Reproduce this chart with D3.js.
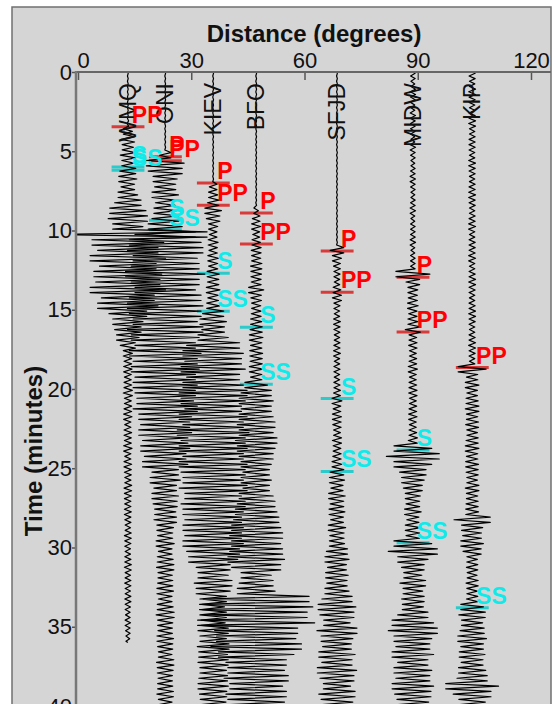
<!DOCTYPE html>
<html>
<head>
<meta charset="utf-8">
<script src="https://cdn.jsdelivr.net/npm/d3@7"></script>
<style>
  body { margin: 0; background: #fff; }
  text { font-family: "Liberation Sans", Arial, sans-serif; }
</style>
</head>
<body>
<script>
// station names and epicentral distances (degrees)
var stations = ["WMQ", "ONI", "KIEV", "BFO", "SFJD", "MIDW", "KIP"];
var distances = [13.2, 23.1, 35.8, 47.2, 68.6, 88.7, 104.4];

// peak trace deflection (degrees of offset) per half minute
var ampWMQ = [0.1,0.1,0.1,0.1,0.1,0.1,0.2, 1.2,1.8,1.5,2.0,1.6, 2.1,2.4,1.8,2.6, 3.5,4.8,5.2,4.0, 21,
  9.5,8.0,10.0,7.5,9.0,8.5,10.0,7.0,8.0, 5.0,4.0,3.5,3.0,2.0,
  1.2,1.0,1.1,0.9,1.0,1.2,0.9,1.0,1.1,0.8, 1.0,0.9,1.1,0.8,1.0,0.9,0.8,1.0,0.9,0.8,
  0.9,0.8,0.7,0.9,0.8,0.7,0.8,0.9,0.7,0.8, 0.7,0.8,0.7,0.6,0.7,0.6,0.5];
var ampONI = [0.1,0.1,0.1,0.1,0.1,0.1,0.1,0.1,0.1,0.1, 1.5, 5.0,4.5, 3.2,2.8,3.5,2.6,3.0, 3.5,4.5,
  8.0,9.5,10.0,8.5,9.0,10.5,9.0,8.0,9.5,10.0, 9.5,8.5,10.0,9.0,8.0,9.5,8.5,9.0,8.0,8.5,
  8.0,7.5,8.5,7.0, 6.5,7.0,6.0,6.5,5.5,6.0, 3.5,4.0,3.0,3.5,3.2,2.8,3.0,
  2.2,2.0,2.4,1.8,2.1,2.3,1.9,2.0,2.2,1.8,2.1,2.4,2.0,1.9,2.2,2.0,1.8,2.3,2.1,1.9,2.0,2.2,1.8];
var ampKIEV = [0.1,0.1,0.1,0.1,0.1,0.1,0.1,0.1,0.1,0.1,0.1,0.1,0.1,0.1, 1.0,1.2,1.5, 2.2,1.8,
  1.2,1.0,1.3,1.1,1.4,1.2, 1.6,1.5,1.8,1.4,1.7, 2.8,3.5,3.0,4.0,
  7.0,8.0,7.5,8.5,7.0,8.0,9.0,8.5,7.5,9.0,8.0,9.5,8.5,9.0,8.0,9.0,8.5,8.0,9.0,7.5,8.5,8.0,7.5,
  8.0,7.5,8.0,7.0,6.5, 4.5,4.0,5.0,4.5, 3.5,3.0,3.5,3.2, 4.0,3.5,4.2,3.8,4.0,3.5,3.8,4.0,3.6,3.4];
var ampBFO = [0.1,0.1,0.1,0.1,0.1,0.1,0.1,0.1,0.1,0.1,0.1,0.1,0.1,0.1,0.1,0.1,0.1, 0.6,
  1.0,1.2,0.9,1.1, 1.3,1.2,1.5,1.4,1.3,2.0,1.4,1.2,1.3,1.5, 1.6,1.8,1.5,1.7,1.6,1.8,1.5,
  3.0,4.0,4.5,4.0,4.5,5.0,4.5,5.5,5.0,4.5,4.0, 3.5,4.0,3.5,4.5,5.0,5.5,6.0,
  6.5,7.0,6.5, 7.0,7.5,6.5, 4.0,4.5,5.0, 14.0,15.0,13.5,15.5, 11.0,10.5,12.0,10.0,
  8.0,7.5,8.5,7.0,8.0,7.5];
var ampSFJD = [0.1,0.1,0.1,0.1,0.1,0.1,0.1,0.1,0.1,0.1,0.1,0.1,0.1,0.1,0.1,0.1,0.1,0.1,0.1,0.1,0.1,0.1,
  1.8,1.2,0.9,0.8,0.7,1.0, 1.2,0.8,0.7,0.9,0.8,0.7,0.8,0.9,0.7,0.8,0.7,0.8,0.9,
  1.3,1.0,1.2,1.1,0.9,1.2,1.0,1.1,1.3, 1.8,2.0,1.6,2.2,1.8,2.1,1.7,2.3,1.9,2.0,
  2.8,3.2,2.5,3.0,2.7,3.2, 4.0,5.0,4.5,3.5,5.3,4.2,3.8,4.8,4.0,5.2,4.5,3.6,4.8,4.2];
var ampMIDW = [0.6,0.5,0.7,0.6,0.5,0.7,0.6,0.6,0.5,0.7,0.6,0.5,0.6,0.7,0.6,0.5,0.6,0.7,0.5,0.6,0.6,0.7,0.5,0.6,0.6,
  4.5, 1.8, 1.3,1.2,1.4,1.1,1.3, 2.0,
  1.0,1.1,0.9,1.0,1.2,0.9,1.0,1.1,0.9,1.0,1.1,0.9,1.0,1.2, 5.0,7.0,5.0, 3.5,3.0,2.5,
  2.0,1.8,2.2,1.6,2.0,1.8, 5.0,6.5,4.0, 3.0,2.4,3.4,2.6,3.0,2.8,
  4.0,5.5,6.5,5.0,4.5,5.5,4.0,5.0,4.5,5.5,4.8,4.2];
var ampKIP = [0.8,0.7,0.9,0.8,0.7,0.8,0.9,0.7,0.8,0.8,0.7,0.9,0.8,0.7,0.8,0.9,0.8,0.7,0.8,0.9,
  0.7,0.8,0.8,0.9,0.7,0.8,0.9,0.8,0.7,0.8,0.9,0.8,0.7,0.8,0.9,0.8,0.7, 3.7,
  1.5,1.8,1.4,1.6,1.8,1.5,1.7,1.4,1.6,1.8,1.5,1.7,1.6,1.4,1.8,1.5,1.6,1.7, 4.8,
  2.8,2.5,3.0,2.4, 1.4,1.5,1.3,1.6,1.4,1.5, 3.0,3.5,2.8,3.2,3.8,3.0,3.4,2.9,3.6,4.0,7.0,5.0,3.5];
var amplitudes = [ampWMQ, ampONI, ampKIEV, ampBFO, ampSFJD, ampMIDW, ampKIP];

// picked arrivals: station index, phase, time (minutes)
var phaseStation = [0, 0, 0, 1, 1, 1, 1, 2, 2, 2, 2, 3, 3, 3, 3, 4, 4, 4, 4, 5, 5, 5, 5, 6, 6];
var phaseName = ["PP","S","SS", "P","PP","S","SS", "P","PP","S","SS", "P","PP","S","SS",
  "P","PP","S","SS", "P","PP","S","SS", "PP","SS"];
var phaseTime = [3.45, 6.0, 6.2, 5.35, 5.6, 9.35, 9.95, 7.0, 8.4, 12.7, 15.1, 8.9, 10.85, 16.1, 19.7,
  11.3, 13.9, 20.6, 25.2, 12.95, 16.4, 23.85, 29.7, 18.65, 33.8];

var distTicks = [0, 30, 60, 90, 120];
var timeTicks = [0, 5, 10, 15, 20, 25, 30, 35, 40];

var width = 558, height = 704;

var svg = d3.select('body').append('svg')
    .attr('width', width)
    .attr('height', height);

svg.append('rect').attr('width', width).attr('height', height).attr('fill', '#fff');
// grey panel
svg.append('rect')
    .attr('x', 12).attr('y', 7)
    .attr('width', 539).attr('height', 720)
    .attr('fill', '#d5d5d5')
    .attr('stroke', '#707070')
    .attr('stroke-width', 1.5);

var x = d3.scaleLinear().domain([0, 120]).range([78, 531]);
var y = d3.scaleLinear().domain([0, 40]).range([72, 706]);

svg.append('clipPath').attr('id', 'plotclip')
  .append('rect').attr('x', 77).attr('y', 72).attr('width', 474).attr('height', 640);

var plot = svg.append('g').attr('clip-path', 'url(#plotclip)');

// arrival marker lines (behind the traces)
var phases = phaseName.map(function (p, i) {
  return { st: phaseStation[i], name: p, t: phaseTime[i] };
});
function phaseColor(d, line) {
  if (d.name.indexOf('P') === 0) return line ? '#d93a3a' : '#ff0000';
  return line ? '#2ccaca' : '#10eaea';
}
plot.selectAll('line.mark')
    .data(phases)
    .enter()
    .append('line')
    .attr('class', 'mark')
    .attr('x1', function (d) { return x(distances[d.st] - 4.3); })
    .attr('x2', function (d) { return x(distances[d.st] + 4.4); })
    .attr('y1', function (d) { return y(d.t); })
    .attr('y2', function (d) { return y(d.t); })
    .attr('stroke', function (d) { return phaseColor(d, true); })
    .attr('stroke-width', 3);

// traces: each half minute drawn as three swings between +peak and -peak
var line = d3.line()
    .x(function (d) { return x(d[1]); })
    .y(function (d) { return y(d[0]); });

var traces = stations.map(function (s, k) {
  var dist = distances[k];
  var amps = amplitudes[k];
  var pts = [[0, dist]];
  amps.forEach(function (a, i) {
    for (var j = 0; j < 3; j++) {
      var sign = (3 * i + j) % 2 ? -1 : 1;
      pts.push([i * 0.5 + (j + 0.5) / 6, dist + sign * a]);
    }
  });
  pts.push([amps.length * 0.5, dist]);
  return pts;
});

plot.selectAll('path.trace')
    .data(traces)
    .enter()
    .append('path')
    .attr('class', 'trace')
    .attr('d', line)
    .attr('fill', 'none')
    .attr('stroke', '#000')
    .attr('stroke-width', 1.2)
    .attr('stroke-linejoin', 'round');

// station names, rotated, on the traces
svg.selectAll('text.station')
    .data(stations)
    .enter()
    .append('text')
    .attr('class', 'station')
    .attr('transform', function (d, i) { return 'translate(' + x(distances[i]) + ',83) rotate(-90)'; })
    .attr('text-anchor', 'end')
    .attr('dy', '0.35em')
    .attr('font-size', 23)
    .attr('fill', '#111')
    .text(function (d) { return d; });

// phase labels
svg.selectAll('text.phase')
    .data(phases)
    .enter()
    .append('text')
    .attr('class', 'phase')
    .attr('x', function (d) { return x(distances[d.st]) + 4; })
    .attr('y', function (d) { return y(d.t) - 4; })
    .attr('font-size', 23)
    .attr('font-weight', 'bold')
    .attr('fill', function (d) { return phaseColor(d, false); })
    .text(function (d) { return d.name; });

// axes
var xAxis = d3.axisTop(x).tickValues(distTicks).tickSizeInner(-8).tickSizeOuter(0).tickPadding(4);
var gx = svg.append('g').attr('transform', 'translate(0,72)').call(xAxis);
gx.select('.domain').remove();
gx.selectAll('line').attr('stroke', '#555').attr('stroke-width', 1.5);
gx.selectAll('text').attr('font-size', 22).attr('font-family', null).attr('fill', '#111')
    .attr('dx', function (d) { return d === 0 ? 5 : 0; });

var yAxis = d3.axisLeft(y).tickValues(timeTicks).tickSizeInner(4).tickSizeOuter(0).tickPadding(0);
var gy = svg.append('g').attr('transform', 'translate(76,0)').call(yAxis);
gy.select('.domain').remove();
gy.selectAll('line').attr('stroke', '#555').attr('stroke-width', 1.5);
gy.selectAll('text').attr('font-size', 22).attr('font-family', null).attr('fill', '#111');

svg.append('line').attr('x1', 75).attr('x2', 551).attr('y1', 72).attr('y2', 72)
    .attr('stroke', '#666').attr('stroke-width', 2);
svg.append('line').attr('x1', 76).attr('x2', 76).attr('y1', 71).attr('y2', height)
    .attr('stroke', '#777').attr('stroke-width', 2.5);

svg.append('text')
    .attr('x', 314).attr('y', 42)
    .attr('text-anchor', 'middle')
    .attr('font-size', 24)
    .attr('font-weight', 'bold')
    .attr('fill', '#111')
    .text('Distance (degrees)');

svg.append('text')
    .attr('transform', 'translate(42,451) rotate(-90)')
    .attr('text-anchor', 'middle')
    .attr('font-size', 24)
    .attr('font-weight', 'bold')
    .attr('fill', '#111')
    .text('Time (minutes)');
</script>
</body>
</html>
